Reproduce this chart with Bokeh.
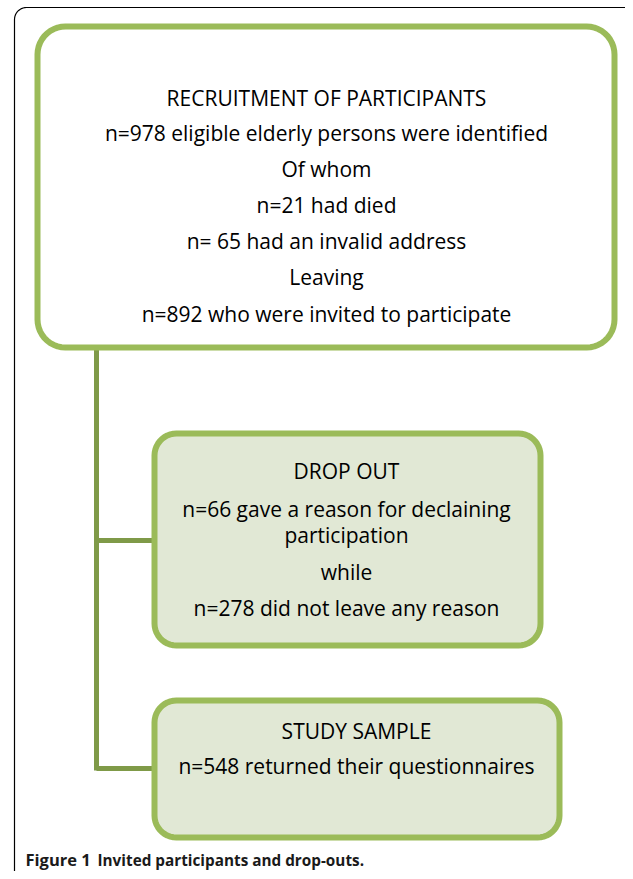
from bokeh.plotting import figure
from bokeh.models import Range1d
from bokeh.core.properties import value
from bokeh.embed import file_html
from bokeh.resources import INLINE
import numpy as np

# ---- content (flowchart) ----
box_names = ["recruitment", "dropout", "sample"]
box_lines = [
    ["RECRUITMENT OF PARTICIPANTS",
     "n=978 eligible elderly persons were identified",
     "Of whom",
     "n=21 had died",
     "n= 65 had an invalid address",
     "Leaving",
     "n=892 who were invited to participate"],
    ["DROP OUT",
     "n=66 gave a reason for declaining",
     "participation",
     "while",
     "n=278 did not leave any reason"],
    ["STUDY SAMPLE",
     "n=548 returned their questionnaires"],
]
caption_bold = "Figure 1"
caption_rest = "Invited participants and drop-outs."

# ---- layout (pixel coordinates, y downward) ----
box_x0 = [37, 154, 154]
box_x1 = [614, 540, 559]
box_y0 = [26, 433, 700]
box_y1 = [347, 645, 837]
box_fill = ["#ffffff", "#e1e8d5", "#e1e8d5"]
line_y = [[97, 132, 168, 204, 240, 276, 313],
          [470, 508, 534, 571, 607],
          [730, 765]]
box_cx = [326, 346, 356]

W, H = 625, 871
p = figure(width=W, height=H, output_backend="svg", toolbar_location=None,
           x_range=Range1d(0, W), y_range=Range1d(H, 0),
           min_border=0)
p.axis.visible = False
p.grid.visible = False
p.outline_line_color = None
p.background_fill_color = "white"


def rrect(x0, y0, x1, y1, r, n=12):
    xs, ys = [], []
    corners = [(x1 - r, y0 + r, -np.pi / 2, 0), (x1 - r, y1 - r, 0, np.pi / 2),
               (x0 + r, y1 - r, np.pi / 2, np.pi), (x0 + r, y0 + r, np.pi, 1.5 * np.pi)]
    for cx, cy, a0, a1 in corners:
        t = np.linspace(a0, a1, n)
        xs.extend(cx + r * np.cos(t))
        ys.extend(cy + r * np.sin(t))
    return xs, ys


# outer frame
fx, fy = rrect(14, 7, 640, 900, 12)
p.patch(fx, fy, fill_color=None, line_color="black", line_width=1.2)

# connector lines
conn = "#7f9a48"
p.line([96, 96], [347, 770], line_color=conn, line_width=5)
p.line([96, 154], [540, 540], line_color=conn, line_width=5)
p.line([96, 154], [768, 768], line_color=conn, line_width=5)

for i in range(3):
    bx, by = rrect(box_x0[i], box_y0[i], box_x1[i], box_y1[i], 28 if i == 0 else 22)
    p.patch(bx, by, fill_color=box_fill[i], line_color="#9bbb59", line_width=6)
    p.text([box_cx[i]] * len(box_lines[i]), line_y[i], text=box_lines[i],
           text_align="center", text_baseline="middle", text_font=value("Open Sans"),
           text_font_size="21px", text_color="black")

p.text([25], [859], text=[caption_bold], text_align="left", text_baseline="middle",
       text_font=value("Open Sans"), text_font_style="bold", text_font_size="16.5px",
       text_color="#1a1a1a")
p.text([97], [859], text=[caption_rest], text_align="left", text_baseline="middle",
       text_font=value("Open Sans"), text_font_style="bold", text_font_size="15.3px",
       text_color="#1a1a1a")

open("out.html", "w").write(file_html(p, INLINE))
